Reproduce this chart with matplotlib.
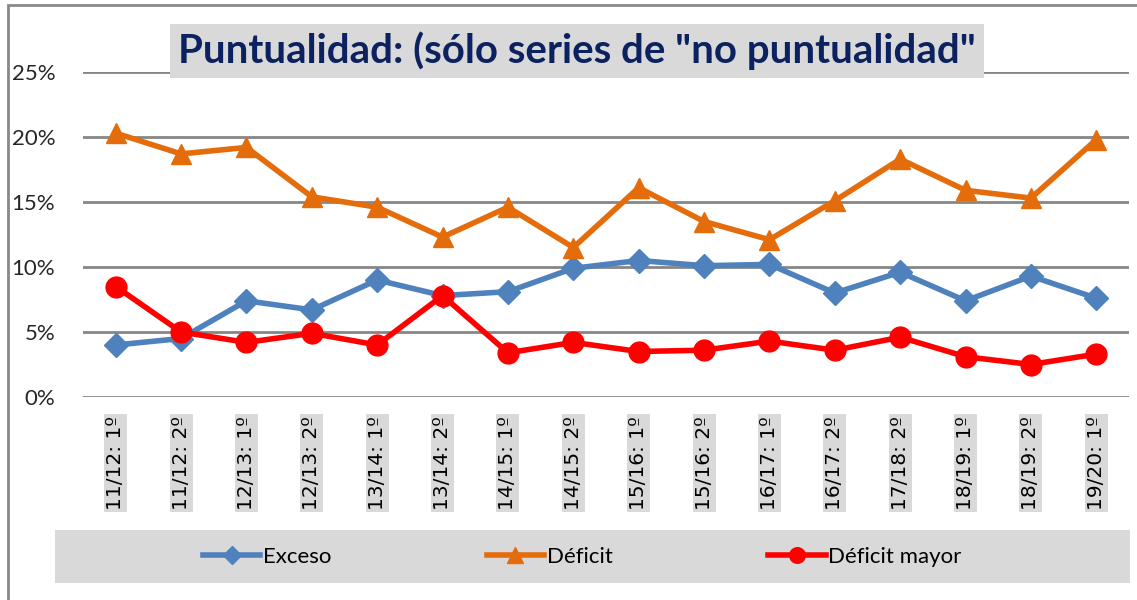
import matplotlib
matplotlib.use("Agg")
import matplotlib.pyplot as plt
from matplotlib.patches import Rectangle
from matplotlib.ticker import PercentFormatter

# Data
periodos = ["11/12: 1º", "11/12: 2º", "12/13: 1º", "12/13: 2º", "13/14: 1º", "13/14: 2º",
            "14/15: 1º", "14/15: 2º", "15/16: 1º", "15/16: 2º", "16/17: 1º", "16/17: 2º",
            "17/18: 2º", "18/19: 1º", "18/19: 2º", "19/20: 1º"]
exceso = [4.0, 4.5, 7.4, 6.7, 9.0, 7.8, 8.1, 9.9, 10.5, 10.1, 10.2, 8.0, 9.6, 7.4, 9.3, 7.6]
deficit = [20.3, 18.7, 19.2, 15.4, 14.6, 12.3, 14.6, 11.5, 16.1, 13.5, 12.1, 15.1, 18.3, 15.9, 15.3, 19.8]
deficit_mayor = [8.5, 5.0, 4.2, 4.9, 4.0, 7.8, 3.4, 4.2, 3.5, 3.6, 4.3, 3.6, 4.6, 3.1, 2.5, 3.3]

plt.rcParams['font.family'] = ['Lato', 'DejaVu Sans']

fig = plt.figure(figsize=(11.37, 6.0), dpi=100)
ax = fig.add_axes([83 / 1137, 1 - 397 / 600, (1129 - 83) / 1137, (397 - 72) / 600])

x = list(range(len(periodos)))
ax.plot(x, exceso, color="#4f81bd", lw=4, marker="D", ms=12, label="Exceso", clip_on=False, zorder=3)
ax.plot(x, deficit, color="#e46c0a", lw=4, marker="^", ms=15, label="Déficit", clip_on=False, zorder=3)
ax.plot(x, deficit_mayor, color="#ff0000", lw=4, marker="o", ms=15, label="Déficit mayor", clip_on=False, zorder=4)

ax.set_xlim(-0.5, len(periodos) - 0.5)
ax.set_ylim(0, 25)
ax.set_yticks([0, 5, 10, 15, 20, 25])
ax.yaxis.set_major_formatter(PercentFormatter(decimals=0))
ax.grid(axis="y", color="#868686", lw=2)
ax.set_axisbelow(True)
for s in ax.spines.values():
    s.set_visible(False)
ax.tick_params(axis="y", length=0, pad=20, labelsize=16, labelcolor="#262626")
ax.tick_params(axis="x", length=0, pad=14)
ax.set_xticks(x)
ax.set_xticklabels(periodos, rotation=90, fontfamily="DejaVu Sans", fontsize=14.5, color="#000000",
                   bbox=dict(facecolor="#d9d9d9", edgecolor="none", pad=1.5))

# title with grey box
fig.text(577 / 1137, 1 - 51 / 600, 'Puntualidad: (sólo series de "no puntualidad"',
         ha="center", va="center", fontsize=29, fontweight="bold", color="#0b2160",
         bbox=dict(facecolor="#d9d9d9", edgecolor="none", boxstyle="square,pad=0.2"))

# legend background
fig.patches.append(Rectangle((55 / 1137, 1 - 583 / 600), (1130 - 55) / 1137, 53 / 600,
                             transform=fig.transFigure, facecolor="#d9d9d9", edgecolor="none"))
fig.legend(loc="center", bbox_to_anchor=(582 / 1137, 1 - 557 / 600), ncol=3, frameon=False,
           fontsize=16, handlelength=2.6, columnspacing=7.0, handletextpad=0.1,
           markerscale=0.75)

# outer chart border
fig.patches.append(Rectangle((8 / 1137, -0.1), 1.2, 1 - 5 / 600 + 0.1,
                             transform=fig.transFigure, facecolor="none", edgecolor="#898989", lw=2))

fig.savefig("out.png", dpi=100)
